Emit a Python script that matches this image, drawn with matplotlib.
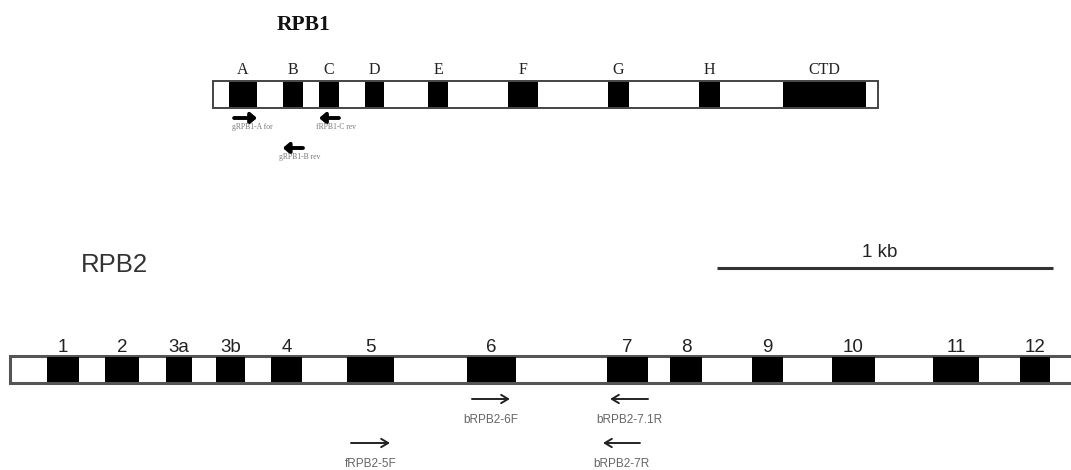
import matplotlib
matplotlib.use("Agg")
import matplotlib.pyplot as plt
from matplotlib.patches import Rectangle

# positions in bp (both genes drawn on the same scale)
rpb1_span = (604, 2583)
rpb1_names = ["A", "B", "C", "D", "E", "F", "G", "H", "CTD"]
rpb1_start = [652, 812, 920, 1057, 1244, 1482, 1780, 2051, 2301]
rpb1_end = [735, 872, 979, 1113, 1304, 1571, 1842, 2113, 2548]

rpb2_span = (0, 3250)
rpb2_names = ["1", "2", "3a", "3b", "4", "5", "6", "7", "8", "9", "10", "11", "12"]
rpb2_start = [110, 283, 464, 613, 777, 1003, 1360, 1777, 1964, 2208, 2446, 2747, 3006]
rpb2_end = [205, 384, 542, 699, 869, 1143, 1506, 1899, 2060, 2301, 2574, 2884, 3095]

# primers: name, tail, head, row
rpb1_primers = [("gRPB1-A for", 667, 735, 0), ("fRPB1-C rev", 979, 920, 0),
                ("gRPB1-B rev", 872, 812, 1)]
rpb2_primers = [("bRPB2-6F", 1375, 1488, 0), ("fRPB2-5F", 1015, 1131, 1),
                ("bRPB2-7.1R", 1899, 1786, 0), ("bRPB2-7R", 1875, 1765, 1)]

scalebar = (2104, 3104)

fig = plt.figure(figsize=(10.71, 4.70), dpi=100)
ax = fig.add_axes([0, 0, 1, 1])
ax.set_xlim(-29.8, 3158)
ax.set_ylim(470, 0)
ax.axis("off")

serif = ["Liberation Serif", "DejaVu Serif"]
sans = ["Liberation Sans", "DejaVu Sans"]

# ---- RPB1 ----
y0, y1 = 81, 108
ax.add_patch(Rectangle((rpb1_span[0], y0), rpb1_span[1] - rpb1_span[0], y1 - y0,
                       facecolor="white", edgecolor="#444444", lw=1.4))
for n, s, e in zip(rpb1_names, rpb1_start, rpb1_end):
    ax.add_patch(Rectangle((s, y0 + 1), e - s, y1 - y0 - 2, facecolor="black", edgecolor="none"))
    ax.text((s + e) / 2, 74, n, ha="center", va="baseline", fontsize=11.5, family=serif,
            color="#222222")
ax.text(875, 30, "RPB1", ha="center", va="baseline", fontsize=15.5, fontweight="bold",
        family=serif, color="#111111")
for name, a, b, row in rpb1_primers:
    ya = 118 + row * 30
    ax.annotate("", xy=(b, ya), xytext=(a, ya),
                arrowprops=dict(arrowstyle="-|>,head_length=0.35,head_width=0.3",
                                lw=2.8, color="black", shrinkA=0, shrinkB=0))
    ax.text((a + b) / 2 + 20, ya + 11, name, ha="center", va="baseline", fontsize=5.5,
            family=serif, color="#777777")

# ---- RPB2 ----
y0, y1 = 356, 383
ax.add_patch(Rectangle((rpb2_span[0], y0), rpb2_span[1] - rpb2_span[0], y1 - y0,
                       facecolor="white", edgecolor="#555555", lw=2.2))
for n, s, e in zip(rpb2_names, rpb2_start, rpb2_end):
    ax.add_patch(Rectangle((s, y0 + 1.2), e - s, y1 - y0 - 2.4, facecolor="black", edgecolor="none"))
    ax.text((s + e) / 2, 352, n, ha="center", va="baseline", fontsize=13.5, family=sans,
            color="#222222")
ax.text(310, 272, "RPB2", ha="center", va="baseline", fontsize=18.5, family=sans, color="#333333")

for name, a, b, row in rpb2_primers:
    ya = 399 + row * 44
    ax.annotate("", xy=(b, ya), xytext=(a, ya),
                arrowprops=dict(arrowstyle="->,head_length=0.5,head_width=0.3",
                                lw=1.4, color="#222222", shrinkA=0, shrinkB=0))
    ax.text((a + b) / 2, ya + 24, name, ha="center", va="baseline", fontsize=8.5,
            family=sans, color="#666666")

ax.plot(scalebar, [268, 268], color="#333333", lw=2.2, solid_capstyle="butt")
ax.text(2590, 257, "1 kb", ha="center", va="baseline", fontsize=13.5,
        family=sans, color="#222222")

fig.savefig("out.png", dpi=100, facecolor="white")
